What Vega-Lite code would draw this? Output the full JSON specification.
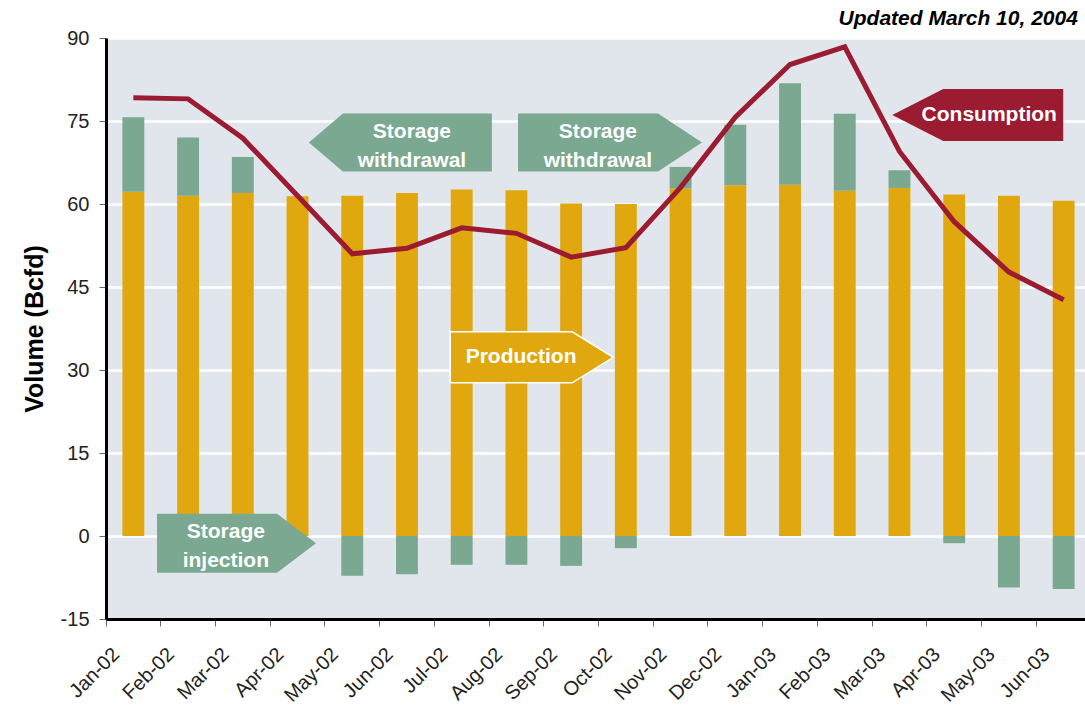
{
  "$schema": "https://vega.github.io/schema/vega-lite/v6.json",
  "width": 979,
  "height": 581,
  "autosize": {"type": "none"},
  "padding": {"left": 106, "top": 38, "right": 0, "bottom": 87},
  "background": "white",
  "config": {"view": {"fill": "#E1E5EC", "stroke": null}, "font": "Liberation Sans"},
  "datasets": {
    "monthly": [
      {"month": "Jan-02", "Production": 62.2, "Storage": 13.5, "Consumption": 79.2},
      {"month": "Feb-02", "Production": 61.5, "Storage": 10.5, "Consumption": 79.0},
      {"month": "Mar-02", "Production": 62.0, "Storage": 6.5, "Consumption": 71.9},
      {"month": "Apr-02", "Production": 61.4, "Storage": 0, "Consumption": 61.5},
      {"month": "May-02", "Production": 61.5, "Storage": -7.2, "Consumption": 51.0},
      {"month": "Jun-02", "Production": 62.0, "Storage": -6.9, "Consumption": 52.0},
      {"month": "Jul-02", "Production": 62.6, "Storage": -5.2, "Consumption": 55.7},
      {"month": "Aug-02", "Production": 62.5, "Storage": -5.2, "Consumption": 54.7},
      {"month": "Sep-02", "Production": 60.1, "Storage": -5.4, "Consumption": 50.4},
      {"month": "Oct-02", "Production": 60.0, "Storage": -2.2, "Consumption": 52.1},
      {"month": "Nov-02", "Production": 62.8, "Storage": 3.9, "Consumption": 63.0},
      {"month": "Dec-02", "Production": 63.4, "Storage": 10.9, "Consumption": 75.7},
      {"month": "Jan-03", "Production": 63.5, "Storage": 18.3, "Consumption": 85.2},
      {"month": "Feb-03", "Production": 62.4, "Storage": 13.9, "Consumption": 88.4},
      {"month": "Mar-03", "Production": 62.9, "Storage": 3.2, "Consumption": 69.5},
      {"month": "Apr-03", "Production": 61.7, "Storage": -1.3, "Consumption": 56.8},
      {"month": "May-03", "Production": 61.5, "Storage": -9.3, "Consumption": 47.7},
      {"month": "Jun-03", "Production": 60.6, "Storage": -9.6, "Consumption": 42.7}
    ]
  },
  "layer": [
    {
      "data": {"name": "monthly"},
      "transform": [{"fold": ["Production", "Storage"], "as": ["series", "volume"]}],
      "mark": {"type": "bar", "width": {"band": 0.4}},
      "encoding": {
        "x": {
          "field": "month", "type": "ordinal", "title": null,
          "scale": {"domain": ["Jan-02","Feb-02","Mar-02","Apr-02","May-02","Jun-02","Jul-02","Aug-02","Sep-02","Oct-02","Nov-02","Dec-02","Jan-03","Feb-03","Mar-03","Apr-03","May-03","Jun-03"], "range": [0, 985], "paddingInner": 0, "paddingOuter": 0},
          "axis": {"bandPosition": 0, "labelAngle": -45, "labelAlign": "right", "labelBaseline": "middle", "labelFontSize": 20, "labelFont": "Liberation Sans", "labelColor": "#222222", "labelOffset": -17, "labelPadding": 25, "tickSize": 7, "tickColor": "#666666", "tickWidth": 1, "domainColor": "black", "domainWidth": 3, "grid": false}
        },
        "y": {
          "field": "volume", "type": "quantitative", "title": "Volume (Bcfd)",
          "scale": {"domain": [-15, 90], "nice": false, "zero": false},
          "axis": {"values": [-15, 0, 15, 30, 45, 60, 75, 90], "labelExpr": "datum.value + ''", "titleFontSize": 25, "titleFontWeight": "bold", "titleFont": "Liberation Sans", "titleColor": "black", "titlePadding": 13, "labelFontSize": 20, "labelFont": "Liberation Sans", "labelColor": "#222222", "labelPadding": 10, "tickSize": 7, "tickColor": "#666666", "domainColor": "black", "domainWidth": 3, "gridColor": "white", "gridWidth": 2.5, "gridOpacity": 1}
        },
        "color": {"field": "series", "type": "nominal", "legend": null, "scale": {"domain": ["Production", "Storage"], "range": ["#E0A80E", "#7AA890"]}},
        "order": {"field": "series", "sort": "ascending"}
      }
    },
    {
      "data": {"name": "monthly"},
      "mark": {"type": "line", "color": "#9B1B30", "strokeWidth": 5, "strokeJoin": "miter"},
      "encoding": {
        "x": {"field": "month", "type": "ordinal", "scale": {"domain": ["Jan-02","Feb-02","Mar-02","Apr-02","May-02","Jun-02","Jul-02","Aug-02","Sep-02","Oct-02","Nov-02","Dec-02","Jan-03","Feb-03","Mar-03","Apr-03","May-03","Jun-03"], "range": [0, 985], "paddingInner": 0, "paddingOuter": 0}},
        "y": {"field": "Consumption", "type": "quantitative", "title": "Volume (Bcfd)", "scale": {"domain": [-15, 90], "nice": false, "zero": false}}
      }
    },
    {
      "mark": {"type": "rule", "color": "black", "strokeWidth": 3},
      "encoding": {"y": {"datum": 90, "type": "quantitative", "title": "Volume (Bcfd)", "scale": {"domain": [-15, 90], "nice": false, "zero": false}}}
    },
    {
      "data": {"values": [{"note": "Updated March 10, 2004", "month": "Jun-03", "value": 90}]},
      "mark": {"type": "text", "font": "Liberation Sans", "fontSize": 21, "fontStyle": "italic", "fontWeight": "bold", "color": "black", "align": "right", "baseline": "alphabetic", "dy": -13},
      "encoding": {
        "x": {"field": "month", "type": "ordinal", "bandPosition": 0.76, "scale": {"domain": ["Jan-02","Feb-02","Mar-02","Apr-02","May-02","Jun-02","Jul-02","Aug-02","Sep-02","Oct-02","Nov-02","Dec-02","Jan-03","Feb-03","Mar-03","Apr-03","May-03","Jun-03"], "range": [0, 985], "paddingInner": 0, "paddingOuter": 0}},
        "y": {"field": "value", "type": "quantitative", "title": "Volume (Bcfd)", "scale": {"domain": [-15, 90], "nice": false, "zero": false}},
        "text": {"field": "note"}
      }
    },
    {
      "data": {"values": [{"note": "Storage withdrawal", "month": "Jun-02", "value": 71.1}]},
      "encoding": {"y": {"field": "value", "type": "quantitative", "title": "Volume (Bcfd)", "scale": {"domain": [-15, 90], "nice": false, "zero": false}}},
      "layer": [
        {"mark": {"type": "point", "shape": "M-9.15,0L-5.75,-2.9L9.15,-2.9L9.15,2.9L-5.75,2.9Z", "filled": true, "size": 400, "color": "#7AA890", "opacity": 1, "strokeWidth": 0},
         "encoding": {"x": {"field": "month", "type": "ordinal", "bandPosition": 0.38, "scale": {"domain": ["Jan-02","Feb-02","Mar-02","Apr-02","May-02","Jun-02","Jul-02","Aug-02","Sep-02","Oct-02","Nov-02","Dec-02","Jan-03","Feb-03","Mar-03","Apr-03","May-03","Jun-03"], "range": [0, 985], "paddingInner": 0, "paddingOuter": 0}}}},
        {"mark": {"type": "text", "font": "Liberation Sans", "fontSize": 21, "fontWeight": "bold", "color": "white", "lineBreak": " ", "lineHeight": 29, "baseline": "middle", "align": "center", "dy": -11},
         "encoding": {"x": {"field": "month", "type": "ordinal", "bandPosition": 0.59, "scale": {"domain": ["Jan-02","Feb-02","Mar-02","Apr-02","May-02","Jun-02","Jul-02","Aug-02","Sep-02","Oct-02","Nov-02","Dec-02","Jan-03","Feb-03","Mar-03","Apr-03","May-03","Jun-03"], "range": [0, 985], "paddingInner": 0, "paddingOuter": 0}}, "text": {"field": "note"}}}
      ]
    },
    {
      "data": {"values": [{"note": "Storage withdrawal", "month": "Oct-02", "value": 71.1}]},
      "encoding": {"y": {"field": "value", "type": "quantitative", "title": "Volume (Bcfd)", "scale": {"domain": [-15, 90], "nice": false, "zero": false}}},
      "layer": [
        {"mark": {"type": "point", "shape": "M-9.2,-2.9L4.8,-2.9L9.2,0L4.8,2.9L-9.2,2.9Z", "filled": true, "size": 400, "color": "#7AA890", "opacity": 1, "strokeWidth": 0},
         "encoding": {"x": {"field": "month", "type": "ordinal", "bandPosition": 0.21, "scale": {"domain": ["Jan-02","Feb-02","Mar-02","Apr-02","May-02","Jun-02","Jul-02","Aug-02","Sep-02","Oct-02","Nov-02","Dec-02","Jan-03","Feb-03","Mar-03","Apr-03","May-03","Jun-03"], "range": [0, 985], "paddingInner": 0, "paddingOuter": 0}}}},
        {"mark": {"type": "text", "font": "Liberation Sans", "fontSize": 21, "fontWeight": "bold", "color": "white", "lineBreak": " ", "lineHeight": 29, "baseline": "middle", "align": "center", "dy": -11},
         "encoding": {"x": {"field": "month", "type": "ordinal", "bandPosition": -0.01, "scale": {"domain": ["Jan-02","Feb-02","Mar-02","Apr-02","May-02","Jun-02","Jul-02","Aug-02","Sep-02","Oct-02","Nov-02","Dec-02","Jan-03","Feb-03","Mar-03","Apr-03","May-03","Jun-03"], "range": [0, 985], "paddingInner": 0, "paddingOuter": 0}}, "text": {"field": "note"}}}
      ]
    },
    {
      "data": {"values": [{"note": "Production", "month": "Aug-02", "value": 32.3}]},
      "encoding": {"y": {"field": "value", "type": "quantitative", "title": "Volume (Bcfd)", "scale": {"domain": [-15, 90], "nice": false, "zero": false}}},
      "layer": [
        {"mark": {"type": "point", "shape": "M-8.15,-2.55L4.05,-2.55L8.15,0L4.05,2.55L-8.15,2.55Z", "filled": true, "size": 400, "color": "#E0A80E", "opacity": 1, "stroke": "white", "strokeWidth": 1.5},
         "encoding": {"x": {"field": "month", "type": "ordinal", "bandPosition": 0.78, "scale": {"domain": ["Jan-02","Feb-02","Mar-02","Apr-02","May-02","Jun-02","Jul-02","Aug-02","Sep-02","Oct-02","Nov-02","Dec-02","Jan-03","Feb-03","Mar-03","Apr-03","May-03","Jun-03"], "range": [0, 985], "paddingInner": 0, "paddingOuter": 0}}}},
        {"mark": {"type": "text", "font": "Liberation Sans", "fontSize": 21, "fontWeight": "bold", "color": "white", "baseline": "middle", "align": "center"},
         "encoding": {"x": {"field": "month", "type": "ordinal", "bandPosition": 0.585, "scale": {"domain": ["Jan-02","Feb-02","Mar-02","Apr-02","May-02","Jun-02","Jul-02","Aug-02","Sep-02","Oct-02","Nov-02","Dec-02","Jan-03","Feb-03","Mar-03","Apr-03","May-03","Jun-03"], "range": [0, 985], "paddingInner": 0, "paddingOuter": 0}}, "text": {"field": "note"}}}
      ]
    },
    {
      "data": {"values": [{"note": "Storage injection", "month": "Mar-02", "value": -1.3}]},
      "encoding": {"y": {"field": "value", "type": "quantitative", "title": "Volume (Bcfd)", "scale": {"domain": [-15, 90], "nice": false, "zero": false}}},
      "layer": [
        {"mark": {"type": "point", "shape": "M-7.95,-2.95L4.05,-2.95L7.95,0L4.05,2.95L-7.95,2.95Z", "filled": true, "size": 400, "color": "#7AA890", "opacity": 1, "strokeWidth": 0},
         "encoding": {"x": {"field": "month", "type": "ordinal", "bandPosition": 0.385, "scale": {"domain": ["Jan-02","Feb-02","Mar-02","Apr-02","May-02","Jun-02","Jul-02","Aug-02","Sep-02","Oct-02","Nov-02","Dec-02","Jan-03","Feb-03","Mar-03","Apr-03","May-03","Jun-03"], "range": [0, 985], "paddingInner": 0, "paddingOuter": 0}}}},
        {"mark": {"type": "text", "font": "Liberation Sans", "fontSize": 21, "fontWeight": "bold", "color": "white", "lineBreak": " ", "lineHeight": 29, "baseline": "middle", "align": "center", "dy": -11},
         "encoding": {"x": {"field": "month", "type": "ordinal", "bandPosition": 0.19, "scale": {"domain": ["Jan-02","Feb-02","Mar-02","Apr-02","May-02","Jun-02","Jul-02","Aug-02","Sep-02","Oct-02","Nov-02","Dec-02","Jan-03","Feb-03","Mar-03","Apr-03","May-03","Jun-03"], "range": [0, 985], "paddingInner": 0, "paddingOuter": 0}}, "text": {"field": "note"}}}
      ]
    },
    {
      "data": {"values": [{"note": "Consumption", "month": "Apr-03", "value": 76.1}]},
      "encoding": {"y": {"field": "value", "type": "quantitative", "title": "Volume (Bcfd)", "scale": {"domain": [-15, 90], "nice": false, "zero": false}}},
      "layer": [
        {"mark": {"type": "point", "shape": "M-8.55,0L-3.45,-2.6L8.55,-2.6L8.55,2.6L-3.45,2.6Z", "filled": true, "size": 400, "color": "#9B1B30", "opacity": 1, "strokeWidth": 0},
         "encoding": {"x": {"field": "month", "type": "ordinal", "bandPosition": 0.93, "scale": {"domain": ["Jan-02","Feb-02","Mar-02","Apr-02","May-02","Jun-02","Jul-02","Aug-02","Sep-02","Oct-02","Nov-02","Dec-02","Jan-03","Feb-03","Mar-03","Apr-03","May-03","Jun-03"], "range": [0, 985], "paddingInner": 0, "paddingOuter": 0}}}},
        {"mark": {"type": "text", "font": "Liberation Sans", "fontSize": 21, "fontWeight": "bold", "color": "white", "baseline": "middle", "align": "center"},
         "encoding": {"x": {"field": "month", "type": "ordinal", "bandPosition": 1.14, "scale": {"domain": ["Jan-02","Feb-02","Mar-02","Apr-02","May-02","Jun-02","Jul-02","Aug-02","Sep-02","Oct-02","Nov-02","Dec-02","Jan-03","Feb-03","Mar-03","Apr-03","May-03","Jun-03"], "range": [0, 985], "paddingInner": 0, "paddingOuter": 0}}, "text": {"field": "note"}}}
      ]
    }
  ]
}
